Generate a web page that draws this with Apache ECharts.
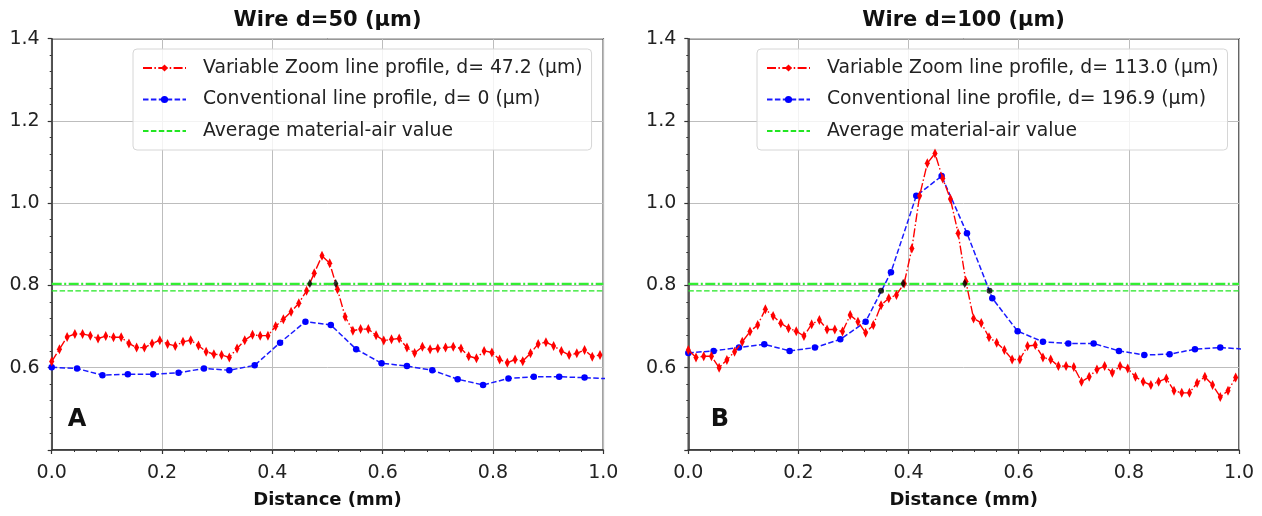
<!DOCTYPE html>
<html>
<head>
<meta charset="utf-8">
<script src="https://cdn.jsdelivr.net/npm/echarts@6/dist/echarts.min.js"></script>
<style>
  html, body { margin: 0; padding: 0; background: #fff; }
  #main { width: 1262px; height: 516px; }
</style>
</head>
<body>
<div id="main"></div>
<script>
// sample positions (mm) of the two profiles
const distZoom = [0, 0.014, 0.028, 0.042, 0.056, 0.07, 0.084, 0.098, 0.112, 0.126, 0.14, 0.154,
  0.168, 0.182, 0.196, 0.21, 0.224, 0.238, 0.252, 0.266, 0.28, 0.294, 0.308, 0.322, 0.336, 0.35,
  0.364, 0.378, 0.392, 0.406, 0.42, 0.434, 0.448, 0.462, 0.476, 0.49, 0.504, 0.518, 0.532, 0.546,
  0.56, 0.574, 0.588, 0.602, 0.616, 0.63, 0.644, 0.658, 0.672, 0.686, 0.7, 0.714, 0.728, 0.742,
  0.756, 0.77, 0.784, 0.798, 0.812, 0.826, 0.84, 0.854, 0.868, 0.882, 0.896, 0.91, 0.924, 0.938,
  0.952, 0.966, 0.98, 0.994];
const distConv = [0, 0.046, 0.092, 0.138, 0.184, 0.23, 0.276, 0.322, 0.368, 0.414, 0.46, 0.506,
  0.552, 0.598, 0.644, 0.69, 0.736, 0.782, 0.828, 0.874, 0.92, 0.966, 1.012];

// panel A (wire d=50)
const zoomA = [0.615, 0.645, 0.675, 0.682, 0.682, 0.678, 0.671, 0.677, 0.674, 0.674, 0.659, 0.649,
  0.649, 0.659, 0.667, 0.658, 0.653, 0.663, 0.667, 0.654, 0.639, 0.633, 0.631, 0.625, 0.647, 0.667,
  0.680, 0.678, 0.678, 0.701, 0.718, 0.736, 0.757, 0.787, 0.830, 0.872, 0.854, 0.791, 0.724, 0.690,
  0.694, 0.694, 0.679, 0.666, 0.669, 0.671, 0.649, 0.636, 0.651, 0.645, 0.647, 0.649, 0.651, 0.647,
  0.628, 0.623, 0.641, 0.637, 0.620, 0.612, 0.620, 0.616, 0.635, 0.658, 0.662, 0.653, 0.641, 0.631,
  0.635, 0.643, 0.627, 0.631];
const convA = [0.601, 0.598, 0.582, 0.584, 0.584, 0.588, 0.598, 0.594, 0.606, 0.661, 0.712, 0.704,
  0.645, 0.611, 0.604, 0.594, 0.572, 0.558, 0.574, 0.578, 0.578, 0.576, 0.573];
const crossZoomA = [[0.468, 0.805], [0.515, 0.805]];
const crossConvA = [];

// panel B (wire d=100)
const zoomB = [0.643, 0.625, 0.628, 0.628, 0.600, 0.619, 0.639, 0.663, 0.688, 0.704, 0.742, 0.726,
  0.708, 0.696, 0.689, 0.677, 0.706, 0.716, 0.693, 0.693, 0.688, 0.728, 0.712, 0.685, 0.704, 0.752,
  0.769, 0.777, 0.805, 0.890, 1.018, 1.097, 1.121, 1.060, 1.010, 0.927, 0.810, 0.720, 0.709, 0.674,
  0.661, 0.643, 0.620, 0.620, 0.653, 0.655, 0.625, 0.620, 0.604, 0.604, 0.602, 0.566, 0.578, 0.596,
  0.604, 0.588, 0.604, 0.598, 0.578, 0.566, 0.558, 0.566, 0.574, 0.544, 0.539, 0.539, 0.563, 0.578,
  0.558, 0.529, 0.544, 0.576];
const convB = [0.636, 0.641, 0.649, 0.657, 0.641, 0.649, 0.669, 0.712, 0.832, 1.018, 1.066, 0.927,
  0.769, 0.689, 0.663, 0.659, 0.659, 0.641, 0.631, 0.633, 0.645, 0.649, 0.645];
const crossZoomB = [[0.390, 0.805], [0.502, 0.805]];
const crossConvB = [[0.350, 0.787], [0.547, 0.787]];

// average material-air levels (dash-dot, dashed)
const levelLine = [0.804, 0.787];
const levelEnds = [0, 1];

const titles = ['Wire d=50 (µm)', 'Wire d=100 (µm)'];
const panelTags = ['A', 'B'];
const zoomNames = ['Variable Zoom line profile, d= 47.2 (µm)', 'Variable Zoom line profile, d= 113.0 (µm)'];
const convNames = ['Conventional line profile, d= 0 (µm)', 'Conventional line profile, d= 196.9 (µm)'];
const avgName = 'Average material-air value';

const font = '"DejaVu Sans", Verdana, sans-serif';
const grids = [
  { left: 51.7, top: 38.7, width: 551.6, height: 411.3 },
  { left: 688.3, top: 38.7, width: 550.7, height: 411.3 }
];

const zip = (xs, ys) => ys.map((y, i) => [xs[i], y]);

const myChart = echarts.init(document.getElementById('main'));

const xAxes = [], yAxes = [], series = [], legends = [], graphics = [];
const panels = [
  { zoom: zoomA, conv: convA, crossZoom: crossZoomA, crossConv: crossConvA },
  { zoom: zoomB, conv: convB, crossZoom: crossZoomB, crossConv: crossConvB }
];

panels.forEach((p, k) => {
  const g = grids[k];
  const avgKey = avgName + (k ? ' ' : '');
  xAxes.push({
    gridIndex: k, type: 'value', min: 0, max: 1, interval: 0.2,
    name: 'Distance (mm)', nameLocation: 'middle', nameGap: 41,
    nameTextStyle: { fontFamily: font, fontWeight: 'bold', fontSize: 18, color: '#111' },
    axisLine: { lineStyle: { color: '#333', width: 1.5 } },
    axisTick: { length: 4, lineStyle: { color: '#333', width: 1.2 } },
    minorTick: { show: true, splitNumber: 5, length: 2, lineStyle: { color: '#333' } },
    axisLabel: { fontFamily: font, fontSize: 19, color: '#222', margin: 14, formatter: v => v.toFixed(1) },
    splitLine: { lineStyle: { color: '#bdbdbd', width: 1 } }
  });
  yAxes.push({
    gridIndex: k, type: 'value', min: 0.4, max: 1.4, interval: 0.2,
    axisLine: { lineStyle: { color: '#333', width: 1.5 } },
    axisTick: { length: 4, lineStyle: { color: '#333', width: 1.2 } },
    minorTick: { show: true, splitNumber: 5, length: 2, lineStyle: { color: '#333' } },
    axisLabel: { fontFamily: font, fontSize: 19, color: '#222', margin: 12,
      formatter: v => (v < 0.45 ? '' : v.toFixed(1)) },
    splitLine: { lineStyle: { color: '#bdbdbd', width: 1 } }
  });

  series.push({
    name: avgKey, type: 'line', xAxisIndex: k, yAxisIndex: k,
    data: levelEnds.map(x => [x, levelLine[1]]), symbol: 'none', z: 3,
    lineStyle: { color: '#22e622', width: 1.4, type: [5.5, 2.4] }, itemStyle: { color: '#22e622' }
  });
  series.push({
    name: 'level' + k, type: 'line', xAxisIndex: k, yAxisIndex: k,
    data: levelEnds.map(x => [x, levelLine[0]]), symbol: 'none', z: 3,
    lineStyle: { color: '#33ee33', width: 2.4, type: [10, 2.5, 2, 2.5] }
  });
  series.push({
    name: convNames[k], type: 'line', xAxisIndex: k, yAxisIndex: k,
    data: zip(distConv, p.conv), symbol: 'circle', symbolSize: 6.5, z: 4,
    lineStyle: { color: '#1a1aff', width: 1.5, type: [5.5, 2.4] }, itemStyle: { color: '#0000ff' }
  });
  series.push({
    name: zoomNames[k], type: 'line', xAxisIndex: k, yAxisIndex: k,
    data: zip(distZoom, p.zoom), symbol: 'diamond', symbolSize: [5, 10], z: 5,
    lineStyle: { color: '#ff0000', width: 1.4, type: [9, 2.4, 1.5, 2.4] }, itemStyle: { color: '#ff0000' }
  });
  series.push({
    name: 'crossZoom' + k, type: 'scatter', xAxisIndex: k, yAxisIndex: k,
    data: p.crossZoom, symbol: 'diamond', symbolSize: [5, 9], z: 6, itemStyle: { color: '#000' }
  });
  series.push({
    name: 'crossConv' + k, type: 'scatter', xAxisIndex: k, yAxisIndex: k,
    data: p.crossConv, symbol: 'circle', symbolSize: 6, z: 6, itemStyle: { color: '#000' }
  });

  legends.push({
    data: [zoomNames[k], convNames[k], { name: avgKey, itemStyle: { opacity: 0 } }],
    orient: 'vertical',
    left: k ? 757 : 133, top: 49,
    padding: [9, 9, 9, 9],
    itemWidth: 43, itemHeight: 9, itemGap: 11.5,
    backgroundColor: 'rgba(255,255,255,0.82)',
    borderColor: '#d6d6d6', borderWidth: 1, borderRadius: 4,
    selectedMode: false,
    formatter: name => name.trim(),
    textStyle: { fontFamily: font, fontSize: 18.8, color: '#222', lineHeight: 20, padding: [0, 0, 0, 12] }
  });

  graphics.push({
    type: 'text', x: g.left + g.width / 2, y: 21,
    style: { text: titles[k], font: 'bold 21px ' + font, fill: '#111', textAlign: 'center', textVerticalAlign: 'middle' }
  });
  graphics.push({
    type: 'text', x: k ? 720 : 77, y: 420,
    style: { text: panelTags[k], font: 'bold 24px ' + font, fill: '#111', textAlign: 'center', textVerticalAlign: 'middle' }
  });
});

const option = {
  backgroundColor: '#fff',
  animation: false,
  grid: grids.map(g => Object.assign({ show: true, borderColor: '#333', borderWidth: 1.5, backgroundColor: 'transparent' }, g)),
  xAxis: xAxes,
  yAxis: yAxes,
  legend: legends,
  series: series,
  graphic: graphics
};

myChart.setOption(option);
</script>
</body>
</html>
